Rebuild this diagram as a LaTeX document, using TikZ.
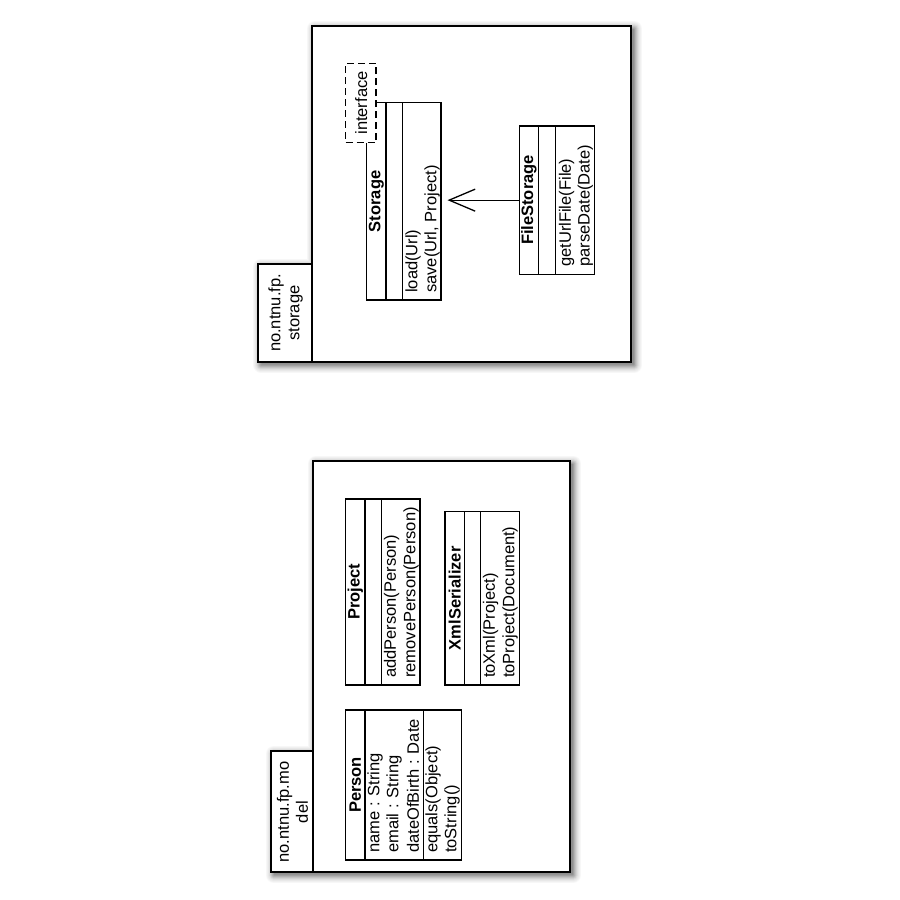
\documentclass[tikz,border=0pt]{standalone}
\usepackage{fontspec}
\setmainfont{Liberation Sans}
\usetikzlibrary{arrows.meta}
% soft shadow of an L-shaped package outline: #1 tab left, #2 tab top, #3 frame left, #4 frame top, #5 right, #6 bottom
\newcommand{\mypkgshadow}[6]{%
  \begin{scope}[shift={(3,3)}]
  \foreach \d/\c in {8/3,7/6,6/9,5/13,4/18,3/24,2/30,1/37}{%
    \filldraw[black!\c, line width=2*\d pt, line join=round]
      (#1,#2) -- (#3,#2) -- (#3,#4) -- (#5,#4) -- (#5,#6) -- (#1,#6) -- cycle;
  }%
  \fill[black!44] (#1,#2) -- (#3,#2) -- (#3,#4) -- (#5,#4) -- (#5,#6) -- (#1,#6) -- cycle;
  \end{scope}%
}
\begin{document}
\begin{tikzpicture}[x=1pt,y=-1pt,
  frame/.style={draw, line width=1.7pt, fill=white},
  cls/.style={draw, line width=1.3pt, fill=white, rectangle, inner sep=0pt, outer sep=0pt},
  divider/.style={line width=1.3pt},
  iface/.style={draw, dash pattern=on 7pt off 4pt, line width=1.3pt, fill=white, rectangle, inner sep=0pt, outer sep=0pt},
  txt/.style={rotate=90, inner sep=0pt, font=\fontsize{16.5}{19}\selectfont},
  ttl/.style={rotate=90, inner sep=0pt, font=\bfseries\fontsize{16.5}{19}\selectfont},
  arr/.style={line width=1.3pt, -{Straight Barb[length=26pt,width=22pt]}}
]
\useasboundingbox (0,0) rectangle (900,900);
\fill[white] (0,0) rectangle (900,900);

% ---------- shadows ----------
\mypkgshadow{258.3}{264}{312.3}{26}{631}{361.7}
\mypkgshadow{271}{751}{313.3}{461}{570}{871.7}

% ---------- package storage ----------
\draw[frame] (312.3,26) rectangle (631,361.7);
\draw[frame] (258.3,264) rectangle (312.3,361.7);
\node[txt, align=center] (pkgstorage) at (285.5,313) {no.ntnu.fp.\\storage};

% Storage class
\node[cls, minimum width=74.3pt, minimum height=197.3pt] (storage) at (403.85,201.35) {};
\draw[divider] (386,102.7) -- (386,300);
\draw[divider] (402.3,102.7) -- (402.3,300);
\node[ttl] (storagettl) at (376.3,201.3) {Storage};
\node[txt, anchor=west] (storagem1) at (413,293) {load(Url)};
\node[txt, anchor=west] (storagem2) at (432,293) {save(Url, Project)};
\node[iface, minimum width=30.3pt, minimum height=79.4pt] (iface) at (360.85,103) {};
\node[txt] (ifacetxt) at (361.3,103) {interface};

% FileStorage class
\node[cls, minimum width=75pt, minimum height=148.3pt] (filestorage) at (556.8,200.15) {};
\draw[divider] (538.7,126) -- (538.7,274.3);
\draw[divider] (555.7,126) -- (555.7,274.3);
\node[ttl] (filestoragettl) at (529,200) {FileStorage};
\node[txt, anchor=west] (filestoragem1) at (566.7,267) {getUrlFile(File)};
\node[txt, anchor=west] (filestoragem2) at (585.3,267) {parseDate(Date)};

\draw[arr] (filestorage.west) -- ([xshift=6.5pt]filestorage.west -| storage.east);

% ---------- package model ----------
\draw[frame] (313.3,461) rectangle (570,871.7);
\draw[frame] (271,751) rectangle (313.3,871.7);
\node[txt, align=center] (pkgmodel) at (292.5,812) {no.ntnu.fp.mo\\del};

% Project class
\node[cls, minimum width=74.3pt, minimum height=186pt] (project) at (382.85,592) {};
\draw[divider] (365,499) -- (365,685);
\draw[divider] (381.7,499) -- (381.7,685);
\node[ttl] (projectttl) at (355.3,592) {Project};
\node[txt, anchor=west] (projectm1) at (391.7,678) {addPerson(Person)};
\node[txt, anchor=west] (projectm2) at (411.2,678) {removePerson(Person)};

% XmlSerializer class
\node[cls, minimum width=74.3pt, minimum height=173.3pt] (xml) at (482.15,598.35) {};
\draw[divider] (464.3,511.7) -- (464.3,685);
\draw[divider] (480.7,511.7) -- (480.7,685);
\node[ttl] (xmlttl) at (454.7,598.3) {XmlSerializer};
\node[txt, anchor=west] (xmlm1) at (490.5,678) {toXml(Project)};
\node[txt, anchor=west] (xmlm2) at (510,678) {toProject(Document)};

% Person class
\node[cls, minimum width=116pt, minimum height=150pt] (person) at (403.7,785) {};
\draw[divider] (365,710) -- (365,860);
\draw[divider] (423.3,710) -- (423.3,860);
\node[ttl] (personttl) at (355.3,785) {Person};
\node[txt, anchor=west] (persona1) at (375,853) {name : String};
\node[txt, anchor=west] (persona2) at (394,853) {email : String};
\node[txt, anchor=west] (persona3) at (413,853) {dateOfBirth : Date};
\node[txt, anchor=west] (personm1) at (433,853) {equals(Object)};
\node[txt, anchor=west] (personm2) at (452,853) {toString()};
\end{tikzpicture}
\end{document}
